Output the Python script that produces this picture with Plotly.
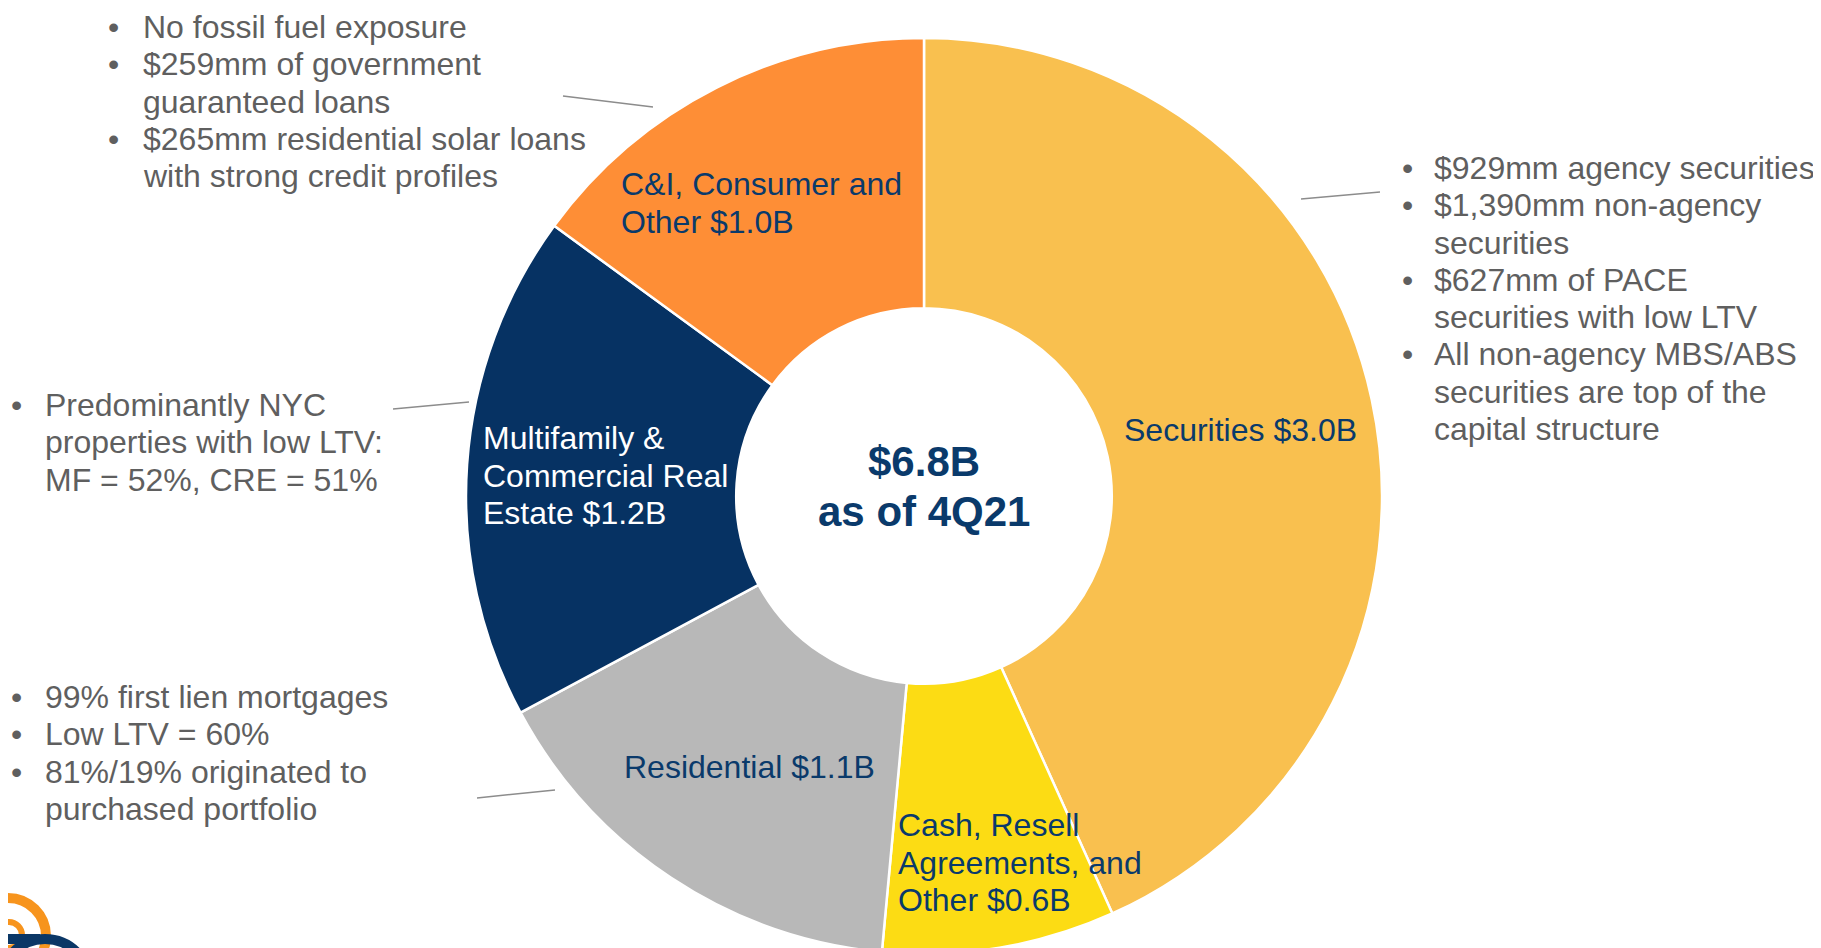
import plotly.graph_objects as go

W, H = 1821, 948
OFF = 8  # page body margin; positions below are in window pixels

# portfolio segments, clockwise from 12 o'clock
segments = ["Securities", "Cash, Resell Agreements, and Other", "Residential",
            "Multifamily & Commercial Real Estate", "C&I, Consumer and Other"]
balances = [2.95, 0.56, 1.07, 1.22, 1.02]  # $B
seg_colors = ["#F9C04F", "#FCDC14", "#B8B8B8", "#063263", "#FE8E36"]
seg_labels = [["Securities $3.0B"],
              ["Cash, Resell", "Agreements, and", "Other $0.6B"],
              ["Residential $1.1B"],
              ["Multifamily &", "Commercial Real", "Estate $1.2B"],
              ["C&I, Consumer and", "Other $1.0B"]]
total_label = ["$6.8B", "as of 4Q21"]

notes_ci = [["No fossil fuel exposure"],
            ["$259mm of government", "guaranteed loans"],
            ["$265mm residential solar loans", "with strong credit profiles"]]
notes_sec = [["$929mm agency securities"],
             ["$1,390mm non-agency", "securities"],
             ["$627mm of PACE", "securities with low LTV"],
             ["All non-agency MBS/ABS", "securities are top of the", "capital structure"]]
notes_mf = [["Predominantly NYC", "properties with low LTV:", "MF = 52%, CRE = 51%"]]
notes_res = [["99% first lien mortgages"],
             ["Low LTV = 60%"],
             ["81%/19% originated to", "purchased portfolio"]]

NAVY_TXT = "#0A3A6B"
GREY_TXT = "#5F5F5F"
FONT = "Liberation Sans, Arial, sans-serif"
PITCH = 37.3


def px(x):
    return (x - OFF) / W


def py(y):
    return 1 - (y - OFF) / H


def text_at(x, y, txt, color, size=32, bold=False, anchor="left"):
    if anchor == "left":
        x -= 1  # annotation padding
    return dict(x=px(x), y=py(y), xref="paper", yref="paper", text=f"<b>{txt}</b>" if bold else txt,
                showarrow=False, xanchor=anchor, yanchor="middle", borderpad=0,
                font=dict(family=FONT, size=size, color=color))


fig = go.Figure(go.Pie(
    labels=segments, values=balances, sort=False, direction="clockwise",
    hole=0.41, textinfo="none", hoverinfo="label+value",
    marker=dict(colors=seg_colors, line=dict(color="white", width=2.5)),
    domain=dict(x=[px(924 - 458), px(924 + 458)], y=[max(0, py(496 + 458)), py(496 - 458)]),
))

annotations = []

# labels inside slices
label_spots = [(1124, 430), (898, 825), (624, 767), (483, 438), (621, 184)]
label_colors = [NAVY_TXT, NAVY_TXT, NAVY_TXT, "white", NAVY_TXT]
for lines, (lx, ly), c in zip(seg_labels, label_spots, label_colors):
    for i, ln in enumerate(lines):
        annotations.append(text_at(lx, ly + i * 37.7, ln, c))

# centre total
for i, ln in enumerate(total_label):
    annotations.append(text_at(924, 461 + i * 51, ln, NAVY_TXT, size=42, bold=True, anchor="center"))

# bullet note blocks: (notes, bullet x, text x, first line y)
blocks = [(notes_ci, 108, 143, 27), (notes_sec, 1402, 1434, 168),
          (notes_mf, 11, 45, 405), (notes_res, 11, 45, 697)]
for notes, bx, tx, y0 in blocks:
    row = 0
    for bullet in notes:
        for j, ln in enumerate(bullet):
            y = y0 + row * PITCH
            if j == 0:
                annotations.append(text_at(bx, y, "•", GREY_TXT))
            annotations.append(text_at(tx, y, ln, GREY_TXT))
            row += 1

# leader lines from notes to slices
leaders = [((563, 96), (653, 107)), ((1301, 199), (1380, 192)),
           ((393, 409), (469, 402)), ((477, 798), (555, 790))]
shapes = [dict(type="line", xref="paper", yref="paper", x0=px(a[0]), y0=py(a[1]),
               x1=px(b[0]), y1=py(b[1]), line=dict(color="#8C8C8C", width=1.5))
          for a, b in leaders]

# partial company logo in bottom-left corner
shapes += [
    dict(type="circle", xref="paper", yref="paper", x0=px(-30), x1=px(46), y0=py(898), y1=py(974),
         line=dict(color="#F7941D", width=10)),
    dict(type="circle", xref="paper", yref="paper", x0=px(-4), x1=px(22), y0=py(922), y1=py(948),
         line=dict(color="#F7941D", width=6)),
    dict(type="rect", xref="paper", yref="paper", x0=px(3), x1=px(40), y0=py(934), y1=py(944),
         fillcolor="#0B3766", line=dict(width=0)),
    dict(type="circle", xref="paper", yref="paper", x0=px(0), x1=px(90), y0=py(939), y1=py(1029),
         line=dict(color="#0B3766", width=10)),
]

fig.update_layout(
    width=W, height=H, margin=dict(l=0, r=0, t=0, b=0),
    paper_bgcolor="white", plot_bgcolor="white", showlegend=False,
    annotations=annotations, shapes=shapes,
)

fig.write_html("out.html")
